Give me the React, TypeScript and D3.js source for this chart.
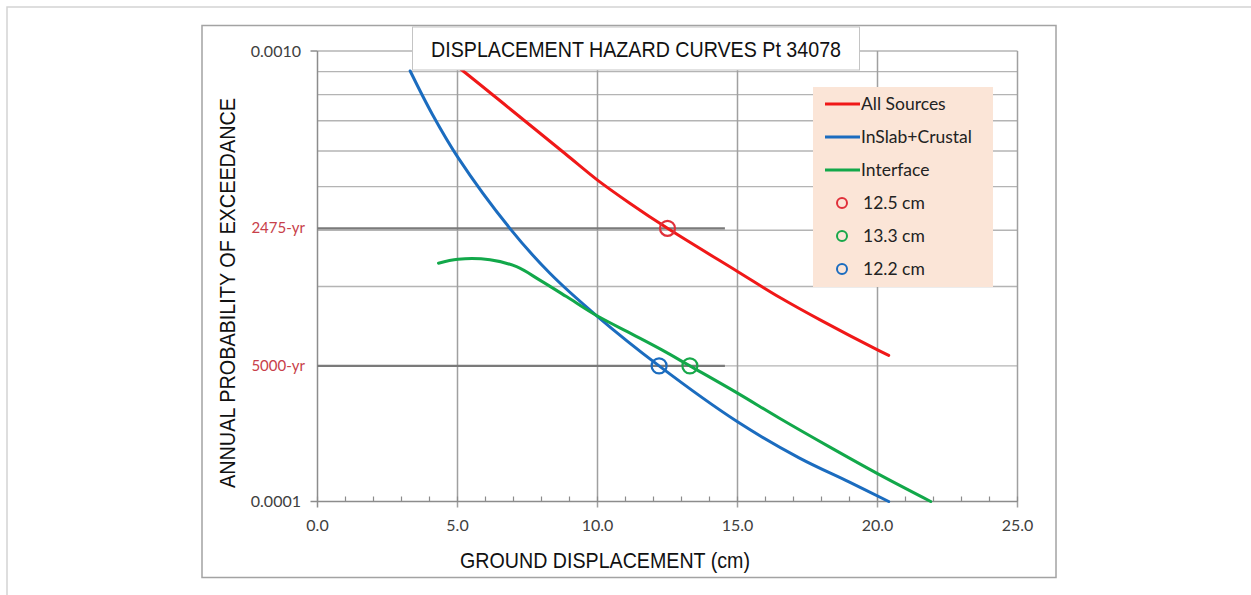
import React from "react";
import * as d3 from "d3";

// curves: [displacement cm, annual probability]
const allSources: [number, number][] = [
  [4.27, 1.0e-3], [5.2, 9.03e-4], [6.98, 7.35e-4], [8.87, 5.9e-4], [10.0, 5.17e-4],
  [11.14, 4.6e-4], [12.5, 4.04e-4], [15.0, 3.24e-4], [16.5, 2.84e-4], [18.0, 2.52e-4],
  [20.0, 2.17e-4], [20.4, 2.11e-4],
];
const inSlabCrustal: [number, number][] = [
  [3.31, 9.03e-4], [4.1, 7.24e-4], [5.02, 5.8e-4], [6.87, 4.04e-4], [8.3, 3.21e-4],
  [9.95, 2.59e-4], [12.2, 2.0e-4], [15.0, 1.503e-4], [17.2, 1.25e-4], [19.0, 1.104e-4],
  [20.4, 1.0e-4],
];
const interfaceSrc: [number, number][] = [
  [4.32, 3.38e-4], [5.02, 3.45e-4], [6.16, 3.44e-4], [7.11, 3.32e-4], [7.94, 3.1e-4],
  [8.89, 2.85e-4], [9.95, 2.59e-4], [11.25, 2.35e-4], [12.3, 2.17e-4], [13.3, 2.0e-4],
  [15.0, 1.74e-4], [16.5, 1.53e-4], [18.3, 1.32e-4], [20.0, 1.153e-4], [21.9, 1.0e-4],
];

const seriesNames = ["All Sources", "InSlab+Crustal", "Interface"];
const seriesColors = ["#f01818", "#1b6cbf", "#12a84a"];

const markerLabels = ["12.5 cm", "13.3 cm", "12.2 cm"];
const markerX = [12.5, 13.3, 12.2];
const markerY = [1 / 2475, 1 / 5000, 1 / 5000];
const markerColors = ["#e0303a", "#18a84a", "#1b6cbf"];

const returnPeriods = [2475, 5000];
const returnLabels = ["2475-yr", "5000-yr"];
const refLineEnd = 14.55;

const xTicks = [0, 5, 10, 15, 20, 25];
const xMinor = d3.range(0, 26, 1);
const yTicks = [0.0001, 0.001];
const yGrid = [2, 3, 4, 5, 6, 7, 8, 9, 10].map((k) => k * 1e-4);

const narrow = "'Liberation Sans', Arial, sans-serif";
const calib = "Lato, 'Open Sans', sans-serif";

export default function App() {
  const x = d3.scaleLinear().domain([0, 25]).range([317.5, 1017.5]);
  const y = d3.scaleLog().domain([1e-4, 1e-3]).range([501.5, 51]);

  const line = d3
    .line<[number, number]>()
    .x((d) => x(d[0]))
    .y((d) => y(d[1]))
    .curve(d3.curveCatmullRom.alpha(0.5));

  const series = [allSources, inSlabCrustal, interfaceSrc];
  const legendX = 813;
  const legendY = 87;
  const rowH = 33;

  return (
    <div style={{ position: "absolute", left: 0, top: 0 }}>
      <svg width={1251} height={595} style={{ display: "block", background: "#fff" }}>
        <rect x={7} y={7} width={1260} height={600} fill="none" stroke="#d4d4d4" strokeWidth={1.5} />
        <rect x={202} y={25.5} width={854} height={552} fill="#fff" stroke="#a3a3a3" strokeWidth={1.5} />

        {/* horizontal grid */}
        {yGrid.map((v) => (
          <line key={"hy" + v} x1={x(0)} x2={x(25)} y1={y(v)} y2={y(v)} stroke="#b4b4b4" strokeWidth={1.4} />
        ))}
        {/* vertical grid */}
        {xTicks.slice(1).map((v) => (
          <line key={"vx" + v} x1={x(v)} x2={x(v)} y1={y(1e-3)} y2={y(1e-4) + 6} stroke="#a0a0a0" strokeWidth={1.5} />
        ))}

        {/* axes */}
        <line x1={x(0)} x2={x(0)} y1={y(1e-3)} y2={y(1e-4) + 6} stroke="#8c8c8c" strokeWidth={1.5} />
        <line x1={x(0) - 7} x2={x(25)} y1={y(1e-4)} y2={y(1e-4)} stroke="#8c8c8c" strokeWidth={1.5} />
        <line x1={x(0) - 7} x2={x(0)} y1={y(1e-3)} y2={y(1e-3)} stroke="#8c8c8c" strokeWidth={1.5} />
        {xMinor.map((v) => (
          <line key={"mt" + v} x1={x(v)} x2={x(v)} y1={y(1e-4) - 5} y2={y(1e-4)} stroke="#8c8c8c" strokeWidth={1.2} />
        ))}

        {/* return-period lines */}
        {returnPeriods.map((rp) => (
          <line key={"rp" + rp} x1={x(0)} x2={x(refLineEnd)} y1={y(1 / rp)} y2={y(1 / rp)} stroke="#7a7a7a" strokeWidth={2.2} />
        ))}

        {/* curves */}
        {series.map((s, i) => (
          <path key={"s" + i} d={line(s) || ""} fill="none" stroke={seriesColors[i]} strokeWidth={3} strokeLinejoin="round" strokeLinecap="round" />
        ))}

        {/* markers */}
        {markerX.map((mx, i) => (
          <circle key={"mk" + i} cx={x(mx)} cy={y(markerY[i])} r={7.5} fill="none" stroke={markerColors[i]} strokeWidth={2.2} />
        ))}

        {/* tick labels */}
        {xTicks.map((v) => (
          <text key={"xl" + v} x={x(v)} y={531} textAnchor="middle" fontFamily={calib} fontSize={16} fill="#404040">
            {v.toFixed(1)}
          </text>
        ))}
        {yTicks.map((v) => (
          <text key={"yl" + v} x={301} y={y(v) + 5.5} textAnchor="end" fontFamily={calib} fontSize={16} fill="#404040">
            {v.toFixed(4)}
          </text>
        ))}
        {returnPeriods.map((rp, i) => (
          <text key={"rl" + rp} x={305} y={y(1 / rp) + 5} textAnchor="end" fontFamily={calib} fontSize={15} fill="#c8404a">
            {returnLabels[i]}
          </text>
        ))}

        {/* axis titles */}
        <text x={605} y={568} textAnchor="middle" fontFamily={narrow} fontSize={22} fill="#111" textLength={290} lengthAdjust="spacingAndGlyphs">
          GROUND DISPLACEMENT (cm)
        </text>
        <text
          transform={`translate(235, 293) rotate(-90)`}
          textAnchor="middle"
          fontFamily={narrow}
          fontSize={22}
          fill="#111"
          textLength={390}
          lengthAdjust="spacingAndGlyphs"
        >
          ANNUAL PROBABILITY OF EXCEEDANCE
        </text>

        {/* title */}
        <rect x={412.5} y={27} width={447} height={43} fill="#fff" stroke="#c4c4c4" strokeWidth={1} />
        <text x={636} y={57} textAnchor="middle" fontFamily={narrow} fontSize={22} fill="#111" textLength={410} lengthAdjust="spacingAndGlyphs">
          DISPLACEMENT HAZARD CURVES Pt 34078
        </text>

        {/* legend */}
        <rect x={legendX} y={legendY} width={180} height={200} fill="#fbe5d7" />
        {seriesNames.map((n, i) => (
          <g key={"lg" + i} transform={`translate(${legendX}, ${legendY + 17 + i * rowH})`}>
            <line x1={12} x2={47} y1={0} y2={0} stroke={seriesColors[i]} strokeWidth={3} />
            <text x={48} y={6} fontFamily={calib} fontSize={17.5} fill="#222">
              {n}
            </text>
          </g>
        ))}
        {markerLabels.map((n, i) => (
          <g key={"lm" + i} transform={`translate(${legendX}, ${legendY + 17 + (i + 3) * rowH})`}>
            <circle cx={29} cy={0} r={5} fill="none" stroke={markerColors[i]} strokeWidth={2} />
            <text x={50} y={6} fontFamily={calib} fontSize={17.5} fill="#222">
              {n}
            </text>
          </g>
        ))}
      </svg>
    </div>
  );
}
